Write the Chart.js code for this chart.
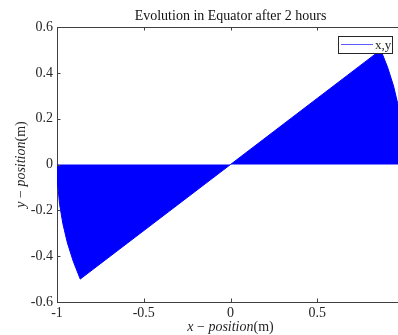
<!DOCTYPE html>
<html>
<head>
<meta charset="utf-8">
<script src="https://cdn.jsdelivr.net/npm/chart.js@4.4.1/dist/chart.umd.min.js"></script>
<style>
  html, body { margin: 0; padding: 0; background: #fff; overflow: hidden; }
  canvas { display: block; }
</style>
</head>
<body>
<canvas id="chart-0" width="410" height="335"></canvas>
<script>
// swing end points of the pendulum (outline of the swept area)
const xPos = [-1, -0.996, -0.985, -0.966, -0.940, -0.906, -0.866, 0, 0.866, 0.906, 0.940, 0.966, 0.985, 0.996, 1];
const yPos = [0, -0.087, -0.174, -0.259, -0.342, -0.423, -0.5, 0, 0.5, 0.423, 0.342, 0.259, 0.174, 0.087, 0];
const xTicks = [-1, -0.5, 0, 0.5, 1];
const yTicks = [-0.6, -0.4, -0.2, 0, 0.2, 0.4, 0.6];
const seriesLabel = "x,y";
const titleText = "Evolution in Equator after 2 hours";

const AXIS = "#404040";
const TEXT = "#262626";
const SERIF = "'Liberation Serif', 'DejaVu Serif', serif";
const FS = 14;

// draw a label made of roman/italic pieces, centred on 0
function mixedText(ctx, parts, y) {
  let total = 0;
  parts.forEach(p => {
    ctx.font = (p[1] ? "italic " : "") + FS + "px " + SERIF;
    p.w = ctx.measureText(p[0]).width;
    total += p.w;
  });
  let x = -total / 2;
  parts.forEach(p => {
    ctx.font = (p[1] ? "italic " : "") + FS + "px " + SERIF;
    ctx.fillText(p[0], x, y);
    x += p.w;
  });
}

const matlabAxes = {
  id: "matlabAxes",
  afterDraw(chart) {
    const ctx = chart.ctx;
    const a = chart.chartArea;
    const xs = chart.scales.x, ys = chart.scales.y;
    const tl = 3.5;
    ctx.save();
    ctx.strokeStyle = AXIS;
    ctx.lineWidth = 1;
    ctx.beginPath();
    // top box line
    ctx.moveTo(a.left, a.top + 0.5);
    ctx.lineTo(a.right, a.top + 0.5);
    // inward ticks
    xTicks.forEach(v => {
      const px = Math.round(xs.getPixelForValue(v)) + 0.5;
      ctx.moveTo(px, a.bottom);
      ctx.lineTo(px, a.bottom - tl);
      ctx.moveTo(px, a.top);
      ctx.lineTo(px, a.top + tl);
    });
    yTicks.forEach(v => {
      const py = Math.round(ys.getPixelForValue(v)) + 0.5;
      ctx.moveTo(a.left, py);
      ctx.lineTo(a.left + tl, py);
    });
    ctx.stroke();

    // title
    ctx.fillStyle = "#111";
    ctx.font = FS + "px " + SERIF;
    ctx.textAlign = "center";
    ctx.fillText(titleText, (a.left + a.right) / 2, 19.5);

    // axis titles
    ctx.fillStyle = TEXT;
    ctx.textAlign = "left";
    ctx.save();
    ctx.translate((a.left + a.right) / 2, 0);
    mixedText(ctx, [["x", true], [" \u2212 ", false], ["position", true], ["(m)", false]], 331);
    ctx.restore();
    ctx.save();
    ctx.translate(25, (a.top + a.bottom) / 2);
    ctx.rotate(-Math.PI / 2);
    mixedText(ctx, [["y", true], [" \u2212 ", false], ["position", true], ["(m)", false]], 0);
    ctx.restore();

    // legend box
    const lx = 338.5, ly = 36.5, lw = 54, lh = 17;
    ctx.fillStyle = "#fff";
    ctx.fillRect(lx, ly, lw, lh);
    ctx.strokeStyle = "#262626";
    ctx.strokeRect(lx, ly, lw, lh);
    ctx.strokeStyle = "#5a5aff";
    ctx.beginPath();
    ctx.moveTo(341, 44.5);
    ctx.lineTo(373, 44.5);
    ctx.stroke();
    ctx.fillStyle = TEXT;
    ctx.font = "13px " + SERIF;
    ctx.fillText(seriesLabel, 375, 49);
    ctx.restore();
  }
};

const points = xPos.map((x, i) => ({ x: x, y: yPos[i] }));

new Chart(document.getElementById("chart-0"), {
  type: "scatter",
  data: {
    datasets: [{
      label: seriesLabel,
      data: points,
      showLine: true,
      fill: "origin",
      backgroundColor: "#0000ff",
      borderColor: "#0000ff",
      borderWidth: 1,
      pointRadius: 0,
      tension: 0
    }]
  },
  plugins: [matlabAxes],
  options: {
    responsive: false,
    animation: false,
    layout: { padding: { top: 27, right: 6, left: 0, bottom: 0 } },
    plugins: {
      legend: { display: false },
      tooltip: { enabled: false },
      title: { display: false }
    },
    scales: {
      x: {
        type: "linear",
        min: -1,
        max: 1,
        afterBuildTicks: s => { s.ticks = xTicks.map(v => ({ value: v })); },
        afterFit: s => { s.height = 33; s.paddingLeft = 0; s.paddingRight = 0; },
        grid: { display: false, drawTicks: false },
        border: { display: true, color: AXIS, width: 1 },
        ticks: {
          color: TEXT,
          padding: 3,
          maxRotation: 0,
          font: { family: SERIF, size: FS },
          callback: v => String(v)
        }
      },
      y: {
        type: "linear",
        min: -0.6,
        max: 0.6,
        afterBuildTicks: s => { s.ticks = yTicks.map(v => ({ value: v })); },
        afterFit: s => { s.width = 57; },
        grid: { display: false, drawTicks: false },
        border: { display: true, color: AXIS, width: 1 },
        ticks: {
          color: TEXT,
          padding: 4,
          font: { family: SERIF, size: FS },
          callback: v => String(v)
        }
      }
    }
  }
});
</script>
</body>
</html>
